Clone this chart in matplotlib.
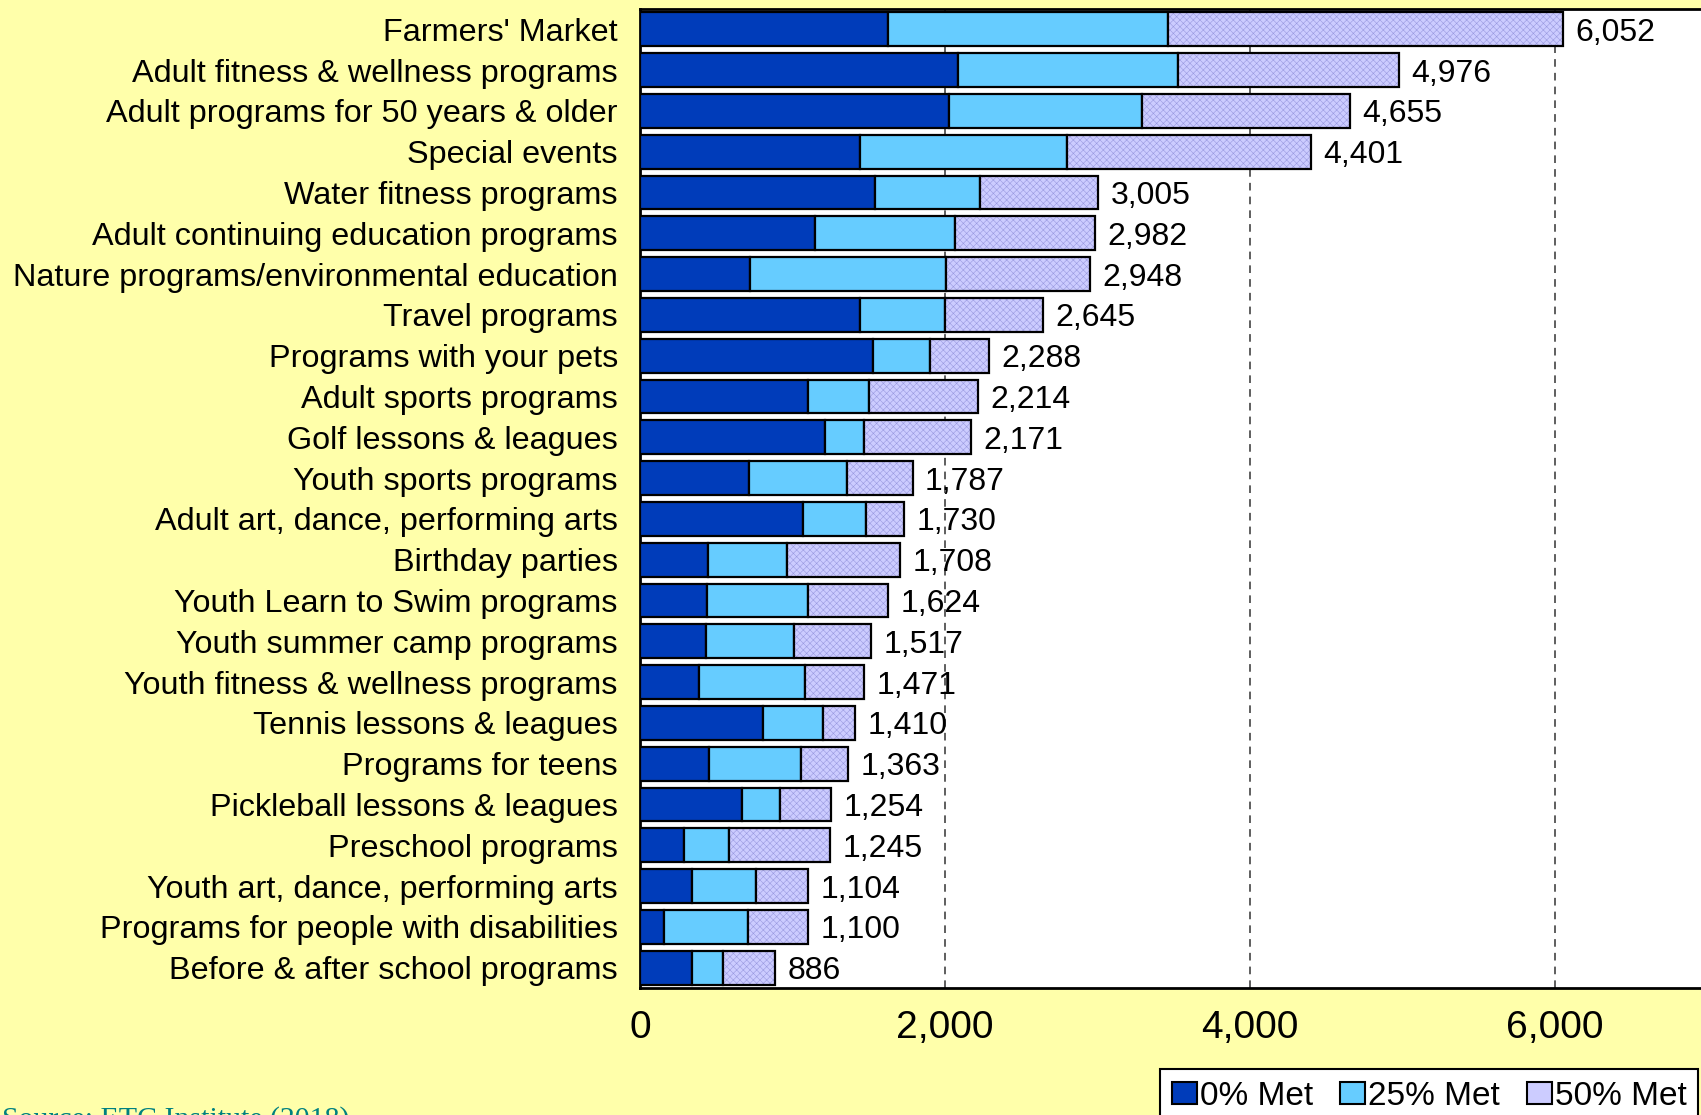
import numpy as np
import matplotlib
matplotlib.use('Agg')
from matplotlib import pyplot as plt
from matplotlib.patches import Patch

plt.rcParams['font.family'] = ['Liberation Sans', 'DejaVu Sans']
plt.rcParams['hatch.linewidth'] = 0.4

# programs, top to bottom
programs = ["Farmers' Market", 'Adult fitness & wellness programs',
            'Adult programs for 50 years & older', 'Special events',
            'Water fitness programs', 'Adult continuing education programs',
            'Nature programs/environmental education', 'Travel programs',
            'Programs with your pets', 'Adult sports programs',
            'Golf lessons & leagues', 'Youth sports programs',
            'Adult art, dance, performing arts', 'Birthday parties',
            'Youth Learn to Swim programs', 'Youth summer camp programs',
            'Youth fitness & wellness programs', 'Tennis lessons & leagues',
            'Programs for teens', 'Pickleball lessons & leagues',
            'Preschool programs', 'Youth art, dance, performing arts',
            'Programs for people with disabilities',
            'Before & after school programs']
met_0 = [1623, 2087, 2027, 1441, 1538, 1146, 719, 1445, 1530, 1103, 1213, 715,
         1071, 444, 439, 433, 385, 804, 452, 669, 291, 343, 155, 343]
met_25 = [1841, 1440, 1268, 1361, 693, 918, 1288, 555, 370, 399, 256, 642,
          409, 518, 665, 577, 695, 398, 604, 249, 295, 415, 551, 199]
totals = [6052, 4976, 4655, 4401, 3005, 2982, 2948, 2645, 2288, 2214, 2171, 1787,
          1730, 1708, 1624, 1517, 1471, 1410, 1363, 1254, 1245, 1104, 1100, 886]
met_50 = [t - a - b for t, a, b in zip(totals, met_0, met_25)]

dark_blue = '#003CBA'
light_blue = '#66CCFF'
lavender = '#CCCCFF'

fig = plt.figure(figsize=(17.01, 11.15), dpi=100, facecolor='#FFFFAA')
ax = fig.add_axes([640/1701, 1 - 988/1115, 1 - 640/1701, (988 - 9)/1115])
ax.set_facecolor('white')

y = np.arange(len(programs))
h = 0.83
left2 = np.array(met_0) + np.array(met_25)
ax.barh(y, met_0, height=h, color=dark_blue, edgecolor='black', linewidth=1.6, zorder=3)
ax.barh(y, met_25, left=met_0, height=h, color=light_blue, edgecolor='black', linewidth=1.6, zorder=3)
ax.barh(y, met_50, left=left2, height=h, color=lavender, edgecolor='#9a9ae0',
        hatch='xxxxx', linewidth=0, zorder=3)
ax.barh(y, met_50, left=left2, height=h, fill=False, edgecolor='black', linewidth=1.6, zorder=4)

# totals at the end of each bar
for yi, t in zip(y, totals):
    ax.annotate(f'{t:,}', (t, yi), xytext=(9, 0), textcoords='offset points',
                va='center_baseline', ha='left', fontsize=23, zorder=5)

ax.set_xlim(0, (1701 - 640) / 0.1525)
ax.set_ylim(len(programs) - 0.5, -0.5)
ax.set_yticks(y)
ax.set_yticklabels(programs)
ax.set_xticks([0, 2000, 4000, 6000])
ax.set_xticklabels(['0', '2,000', '4,000', '6,000'])
ax.tick_params(axis='y', length=0, pad=16, labelsize=23.3)
ax.tick_params(axis='x', length=0, pad=16, labelsize=28)

ax.set_axisbelow(True)
ax.xaxis.grid(True, linestyle=(0, (5, 4)), color='#333333', linewidth=1.1)
ax.spines['right'].set_visible(False)
for s in ['left', 'top', 'bottom']:
    ax.spines[s].set_linewidth(2)
    ax.spines[s].set_color('black')

handles = [Patch(facecolor=dark_blue, edgecolor='black', linewidth=1.5),
           Patch(facecolor=light_blue, edgecolor='black', linewidth=1.5),
           Patch(facecolor=lavender, edgecolor='black', linewidth=1.5)]
leg = fig.legend(handles, ['0% Met', '25% Met', '50% Met'], loc='upper left',
                 bbox_to_anchor=(1160/1701, 1 - 1069/1115), ncol=3, fontsize=24,
                 handlelength=0.75, handleheight=0.65, handletextpad=0.1,
                 columnspacing=0.8, borderpad=0.35, fancybox=False, framealpha=1,
                 borderaxespad=0)
leg.get_frame().set_edgecolor('black')
leg.get_frame().set_linewidth(1.5)

# source note, cut by the bottom edge as in the original
fig.text(2/1701, 1 - 1127/1115, 'Source: ETC Institute (2018)', family='Liberation Serif',
         fontsize=21.5, color='#008080', va='baseline', ha='left')

fig.savefig('out.png', dpi=100, facecolor=fig.get_facecolor())
